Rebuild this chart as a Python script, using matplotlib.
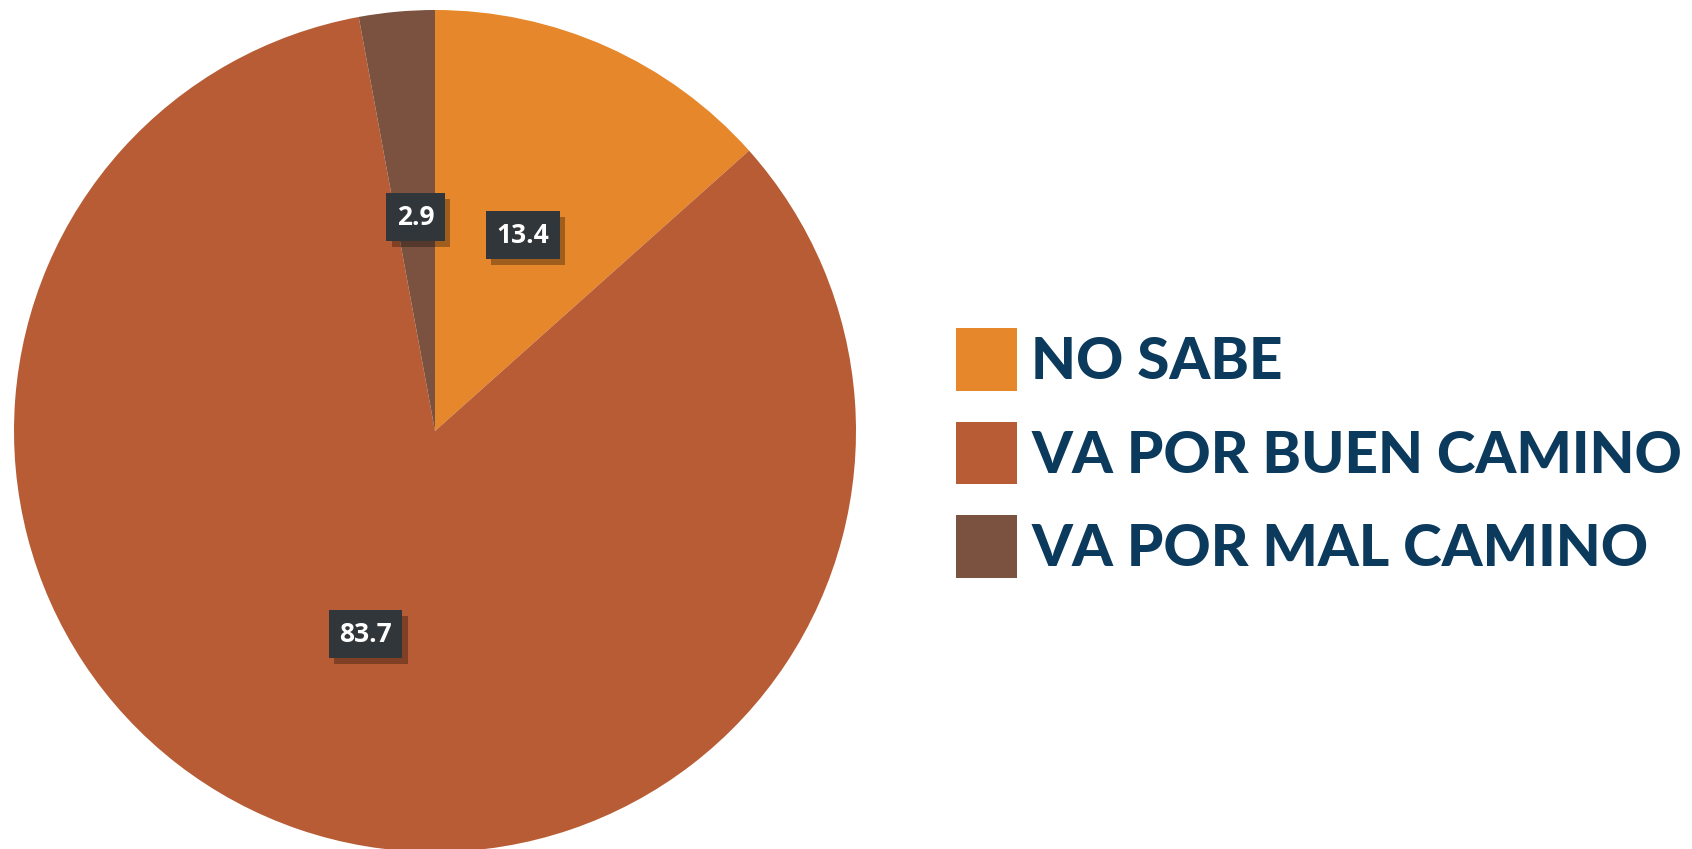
import matplotlib.pyplot as plt
import matplotlib.patheffects as pe

# datos
categorias = ['NO SABE', 'VA POR BUEN CAMINO', 'VA POR MAL CAMINO']
valores = [13.4, 83.7, 2.9]
colores = ['#E5872A', '#B85C35', '#7B5140']

fig = plt.figure(figsize=(16.92, 8.49), dpi=100)
W, H = 1692, 849
cx, cy, r = 435, 431, 421
ax = fig.add_axes([(cx - r) / W, (H - cy - r) / H, 2 * r / W, 2 * r / H])

wedges, textos, autotextos = ax.pie(
    valores, colors=colores, startangle=90, counterclock=False,
    autopct=lambda p: '%.1f' % p, pctdistance=0.51,
    wedgeprops=dict(linewidth=0),
    textprops=dict(color='white', fontsize=19, fontweight='bold', family='Open Sans'))
ax.set_xlim(-1, 1)
ax.set_ylim(-1, 1)
ax.set_aspect('equal')

for t in autotextos:
    t.set_bbox(dict(boxstyle='square,pad=0.4', facecolor='#31363A', edgecolor='none'))
    t.get_bbox_patch().set_path_effects([
        pe.SimplePatchShadow(offset=(4, -4), shadow_rgbFace='black', alpha=0.3),
        pe.Normal()])

leg = fig.legend(wedges, categorias, loc='center left', bbox_to_anchor=(903 / W, 1 - 453 / H),
                 frameon=False, handlelength=1.05, handleheight=1.28, handletextpad=0.25,
                 labelspacing=0.53,
                 prop=dict(family='Lato', weight='black', size=42))
for t in leg.get_texts():
    t.set_color('#0B3A5C')

fig.savefig('out.png', dpi=100)
